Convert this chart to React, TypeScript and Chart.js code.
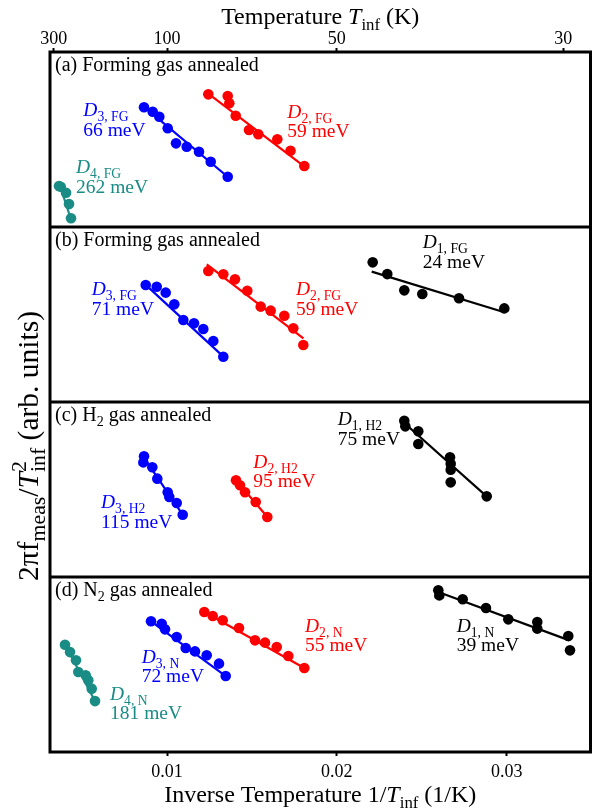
import React, { useEffect, useRef } from "react";
import { Chart, registerables } from "chart.js";

Chart.register(...registerables);

// ---------- data: x = 1/T_inf (1/K), y = arbitrary units (each panel 0..10) ----------
// (a) Forming gas annealed
const aD4X = [0.003641, 0.003742, 0.004054, 0.00423, 0.004348];
const aD4Y = [2.34, 2.3, 1.96, 1.31, 0.5];
const aD3X = [0.008646, 0.009158, 0.009547, 0.010041, 0.01053, 0.01116, 0.011884, 0.012573, 0.013574];
const aD3Y = [6.84, 6.59, 6.3, 5.64, 4.78, 4.59, 4.3, 3.73, 2.87];
const aD2X = [0.012432, 0.013574, 0.013668, 0.014045, 0.014828, 0.015375, 0.016494, 0.017271, 0.018084];
const aD2Y = [7.58, 7.49, 7.07, 6.36, 5.54, 5.3, 5.01, 4.36, 3.49];
const aD4FitX = [0.0037, 0.00436];
const aD4FitY = [2.35, 0.4];
const aD3FitX = [0.00865, 0.01357];
const aD3FitY = [6.86, 2.87];
const aD2FitX = [0.01243, 0.01808];
const aD2FitY = [7.62, 3.47];

// (b) Forming gas annealed
const bD3X = [0.008746, 0.009394, 0.009924, 0.01043, 0.01096, 0.01159, 0.012137, 0.012726, 0.013315];
const bD3Y = [6.69, 6.59, 6.25, 5.58, 4.69, 4.5, 4.17, 3.49, 2.59];
const bD2X = [0.012432, 0.013315, 0.014003, 0.014728, 0.015517, 0.016105, 0.016906, 0.017436, 0.018025];
const bD2Y = [7.49, 7.3, 7.01, 6.36, 5.45, 5.22, 4.93, 4.21, 3.26];
const bD1X = [0.022111, 0.02297, 0.023971, 0.025031, 0.027192, 0.029859];
const bD1Y = [7.98, 7.31, 6.38, 6.17, 5.93, 5.35];
const bD3FitX = [0.00875, 0.01332];
const bD3FitY = [6.69, 2.59];
const bD2FitX = [0.01234, 0.01803];
const bD2FitY = [7.87, 3.64];
const bD1FitX = [0.022052, 0.029859];
const bD1FitY = [7.45, 5.13];

// (c) H2 gas annealed
const cD3X = [0.008646, 0.008605, 0.009134, 0.009429, 0.010041, 0.010135, 0.010571, 0.010924];
const cD3Y = [6.9, 6.55, 6.27, 5.62, 4.84, 4.57, 4.23, 3.56];
const cD2X = [0.014062, 0.014298, 0.014592, 0.015222, 0.015905];
const cD2Y = [5.53, 5.24, 4.84, 4.29, 3.43];
const cD1X = [0.023971, 0.02403, 0.024795, 0.024795, 0.026662, 0.026703, 0.026703, 0.026703, 0.028823];
const cD1Y = [8.93, 8.61, 8.33, 7.6, 6.84, 6.47, 6.13, 5.41, 4.61];
const cD3FitX = [0.00862, 0.01092];
const cD3FitY = [6.85, 3.56];
const cD2FitX = [0.01406, 0.01591];
const cD2FitY = [5.53, 3.43];
const cD1FitX = [0.02397, 0.02882];
const cD1FitY = [8.8, 4.61];

// (d) N2 gas annealed
const dD4X = [0.003995, 0.004289, 0.004642, 0.004778, 0.005213, 0.005366, 0.005567, 0.005761];
const dD4Y = [6.13, 5.71, 5.24, 4.57, 4.38, 4.1, 3.62, 2.91];
const dD3X = [0.009058, 0.009688, 0.009882, 0.010571, 0.011101, 0.011649, 0.012337, 0.013061, 0.013456];
const dD3Y = [7.47, 7.33, 7.01, 6.57, 5.94, 5.75, 5.53, 5.05, 4.34];
const dD2X = [0.012196, 0.012691, 0.013279, 0.014239, 0.015181, 0.01577, 0.016459, 0.017142, 0.018084];
const dD2Y = [8.0, 7.77, 7.53, 7.09, 6.38, 6.25, 6.0, 5.49, 4.8];
const dD1X = [0.025973, 0.026032, 0.02741, 0.028781, 0.030094, 0.031801, 0.031801, 0.033627, 0.033727];
const dD1Y = [9.24, 8.95, 8.73, 8.23, 7.58, 7.43, 7.05, 6.63, 5.81];
const dD4FitX = [0.004, 0.00576];
const dD4FitY = [6.13, 2.91];
const dD3FitX = [0.00906, 0.01346];
const dD3FitY = [7.47, 4.34];
const dD2FitX = [0.0122, 0.01808];
const dD2FitY = [8.0, 4.8];
const dD1FitX = [0.02597, 0.03369];
const dD1FitY = [9.14, 6.38];

// axis ticks
const bottomTickValues = [0.01, 0.02, 0.03];
const bottomTickLabels = ["0.01", "0.02", "0.03"];
const topTickTemps = [300, 100, 50, 30];
const topTickLabels = ["300", "100", "50", "30"];
const X_MIN = 0.003111;
const X_MAX = 0.034934;

// ---------- styling ----------
const FONT = '"Liberation Serif", "Times New Roman", "DejaVu Serif", serif';
const BLUE = "#0000ff";
const RED = "#ff0000";
const BLACK = "#000000";
const TEAL = "#1a8c86";

const PANELS = ["ya", "yb", "yc", "yd"];

type Run = { t: string; italic?: boolean; pos?: "sub" | "sup"; stack?: boolean };

const panelLabels: Run[][] = [
  [{ t: "(a) Forming gas annealed" }],
  [{ t: "(b) Forming gas annealed" }],
  [{ t: "(c) H" }, { t: "2", pos: "sub" }, { t: " gas annealed" }],
  [{ t: "(d) N" }, { t: "2", pos: "sub" }, { t: " gas annealed" }],
];

const annotations = [
  { axis: "ya", x: 0.005073, y: 6.34, n: "3", s: "FG", e: "66 meV", c: BLUE },
  { axis: "ya", x: 0.004643, y: 3.07, n: "4", s: "FG", e: "262 meV", c: TEAL },
  { axis: "ya", x: 0.017083, y: 6.25, n: "2", s: "FG", e: "59 meV", c: RED },
  { axis: "yb", x: 0.005567, y: 6.09, n: "3", s: "FG", e: "71 meV", c: BLUE },
  { axis: "yb", x: 0.017595, y: 6.11, n: "2", s: "FG", e: "59 meV", c: RED },
  { axis: "yb", x: 0.025054, y: 8.8, n: "1", s: "FG", e: "24 meV", c: BLACK },
  { axis: "yc", x: 0.006114, y: 3.94, n: "3", s: "H2", e: "115 meV", c: BLUE },
  { axis: "yc", x: 0.015081, y: 6.23, n: "2", s: "H2", e: "95 meV", c: RED },
  { axis: "yc", x: 0.02005, y: 8.67, n: "1", s: "H2", e: "75 meV", c: BLACK },
  { axis: "yd", x: 0.006644, y: 2.99, n: "4", s: "N", e: "181 meV", c: TEAL },
  { axis: "yd", x: 0.00851, y: 5.1, n: "3", s: "N", e: "72 meV", c: BLUE },
  { axis: "yd", x: 0.018125, y: 6.86, n: "2", s: "N", e: "55 meV", c: RED },
  { axis: "yd", x: 0.027056, y: 6.86, n: "1", s: "N", e: "39 meV", c: BLACK },
];

function fontFor(size: number, italic?: boolean) {
  return `${italic ? "italic " : ""}${size}px ${FONT}`;
}

function runsWidth(ctx: CanvasRenderingContext2D, runs: Run[], size: number, subScale = 0.7) {
  let w = 0;
  let pending = 0;
  for (const r of runs) {
    const s = r.pos ? size * subScale : size;
    ctx.font = fontFor(s, r.italic);
    const rw = ctx.measureText(r.t).width;
    if (r.stack) {
      pending = Math.max(pending, rw);
    } else {
      w += Math.max(pending, rw);
      pending = 0;
    }
  }
  return w + pending;
}

function drawRuns(
  ctx: CanvasRenderingContext2D,
  runs: Run[],
  x: number,
  y: number,
  size: number,
  color: string,
  subScale = 0.7
) {
  ctx.fillStyle = color;
  ctx.textBaseline = "alphabetic";
  ctx.textAlign = "left";
  let cx = x;
  let pending = 0;
  for (const r of runs) {
    const s = r.pos ? size * subScale : size;
    ctx.font = fontFor(s, r.italic);
    const dy = r.pos === "sub" ? size * 0.26 : r.pos === "sup" ? -size * 0.4 : 0;
    ctx.fillText(r.t, cx, y + dy);
    const rw = ctx.measureText(r.t).width;
    if (r.stack) {
      pending = Math.max(pending, rw);
    } else {
      cx += Math.max(pending, rw);
      pending = 0;
    }
  }
}

const decorPlugin = {
  id: "decor",
  afterDraw(chart: any) {
    const ctx: CanvasRenderingContext2D = chart.ctx;
    const ca = chart.chartArea;
    const xs = chart.scales.x;
    ctx.save();

    // panel labels and annotations
    PANELS.forEach((id, i) => {
      const ys = chart.scales[id];
      drawRuns(ctx, panelLabels[i], ca.left + 5, ys.top + 19, 20, "#000");
    });
    for (const a of annotations) {
      const px = xs.getPixelForValue(a.x);
      const py = chart.scales[a.axis].getPixelForValue(a.y);
      drawRuns(ctx, [{ t: "D", italic: true }, { t: `${a.n}, ${a.s}`, pos: "sub" }], px, py, 19.5, a.c);
      drawRuns(ctx, [{ t: a.e }], px, py + 19.5, 19.5, a.c);
    }

    // frame and panel dividers
    ctx.strokeStyle = "#000";
    ctx.lineWidth = 3;
    ctx.strokeRect(ca.left, ca.top, ca.right - ca.left, ca.bottom - ca.top);
    for (let i = 1; i < PANELS.length; i++) {
      const yy = chart.scales[PANELS[i]].top;
      ctx.beginPath();
      ctx.moveTo(ca.left, yy);
      ctx.lineTo(ca.right, yy);
      ctx.stroke();
    }

    // top title
    const topRuns: Run[] = [{ t: "Temperature " }, { t: "T", italic: true }, { t: "inf", pos: "sub" }, { t: " (K)" }];
    const tw = runsWidth(ctx, topRuns, 24);
    drawRuns(ctx, topRuns, (ca.left + ca.right) / 2 - tw / 2, 24, 24, "#000");

    // bottom title
    const botRuns: Run[] = [
      { t: "Inverse Temperature 1/" },
      { t: "T", italic: true },
      { t: "inf", pos: "sub" },
      { t: " (1/K)" },
    ];
    const bw = runsWidth(ctx, botRuns, 24);
    drawRuns(ctx, botRuns, (ca.left + ca.right) / 2 - bw / 2, 802, 24, "#000");

    // y title (rotated)
    const yRuns: Run[] = [
      { t: "2\u03c0f" },
      { t: "meas", pos: "sub" },
      { t: "/" },
      { t: "T", italic: true },
      { t: "2", pos: "sup", stack: true },
      { t: "inf", pos: "sub" },
      { t: " (arb. units)" },
    ];
    const Y_SIZE = 29.5;
    const yw = runsWidth(ctx, yRuns, Y_SIZE, 0.74);
    ctx.translate(37.5, 446);
    ctx.rotate(-Math.PI / 2);
    drawRuns(ctx, yRuns, -yw / 2, 0, Y_SIZE, "#000", 0.74);

    ctx.restore();
  },
};

function pts(xs: number[], ys: number[]) {
  return xs.map((x, i) => ({ x, y: ys[i] }));
}

function pointSet(xs: number[], ys: number[], color: string, axis: string) {
  return {
    type: "scatter" as const,
    data: pts(xs, ys),
    yAxisID: axis,
    xAxisID: "x",
    showLine: false,
    pointRadius: 5.3,
    pointBackgroundColor: color,
    pointBorderWidth: 0,
    borderColor: color,
    order: 0,
  };
}

function fitSet(xs: number[], ys: number[], color: string, axis: string) {
  return {
    type: "scatter" as const,
    data: pts(xs, ys),
    yAxisID: axis,
    xAxisID: "x",
    showLine: true,
    pointRadius: 0,
    borderColor: color,
    borderWidth: 2.2,
    order: 1,
  };
}

export default function App() {
  const ref = useRef<HTMLCanvasElement>(null);

  useEffect(() => {
    const datasets: any[] = [
      pointSet(aD4X, aD4Y, TEAL, "ya"),
      pointSet(aD3X, aD3Y, BLUE, "ya"),
      pointSet(aD2X, aD2Y, RED, "ya"),
      fitSet(aD4FitX, aD4FitY, TEAL, "ya"),
      fitSet(aD3FitX, aD3FitY, BLUE, "ya"),
      fitSet(aD2FitX, aD2FitY, RED, "ya"),

      pointSet(bD3X, bD3Y, BLUE, "yb"),
      pointSet(bD2X, bD2Y, RED, "yb"),
      pointSet(bD1X, bD1Y, BLACK, "yb"),
      fitSet(bD3FitX, bD3FitY, BLUE, "yb"),
      fitSet(bD2FitX, bD2FitY, RED, "yb"),
      fitSet(bD1FitX, bD1FitY, BLACK, "yb"),

      pointSet(cD3X, cD3Y, BLUE, "yc"),
      pointSet(cD2X, cD2Y, RED, "yc"),
      pointSet(cD1X, cD1Y, BLACK, "yc"),
      fitSet(cD3FitX, cD3FitY, BLUE, "yc"),
      fitSet(cD2FitX, cD2FitY, RED, "yc"),
      fitSet(cD1FitX, cD1FitY, BLACK, "yc"),

      pointSet(dD4X, dD4Y, TEAL, "yd"),
      pointSet(dD3X, dD3Y, BLUE, "yd"),
      pointSet(dD2X, dD2Y, RED, "yd"),
      pointSet(dD1X, dD1Y, BLACK, "yd"),
      fitSet(dD4FitX, dD4FitY, TEAL, "yd"),
      fitSet(dD3FitX, dD3FitY, BLUE, "yd"),
      fitSet(dD2FitX, dD2FitY, RED, "yd"),
      fitSet(dD1FitX, dD1FitY, BLACK, "yd"),
    ];

    const tickFont = { family: FONT, size: 18, lineHeight: 1 };
    const scales: any = {
      x: {
        type: "linear",
        position: "bottom",
        min: X_MIN,
        max: X_MAX,
        afterBuildTicks: (axis: any) => {
          axis.ticks = bottomTickValues.map((v) => ({ value: v }));
        },
        afterFit: (s: any) => {
          s.height = 30;
        },
        ticks: {
          autoSkip: false,
          maxRotation: 0,
          font: tickFont,
          color: "#000",
          padding: 7,
          callback: (_v: any, i: number) => bottomTickLabels[i],
        },
        grid: { display: true, drawOnChartArea: false, drawTicks: true, tickLength: 4, tickWidth: 2, tickColor: "#000" },
        border: { display: false },
      },
      x2: {
        type: "linear",
        position: "top",
        min: X_MIN,
        max: X_MAX,
        afterBuildTicks: (axis: any) => {
          axis.ticks = topTickTemps.map((t) => ({ value: 1 / t }));
        },
        afterFit: (s: any) => {
          s.height = 30;
        },
        ticks: {
          autoSkip: false,
          maxRotation: 0,
          font: tickFont,
          color: "#000",
          padding: 0,
          callback: (_v: any, i: number) => topTickLabels[i],
        },
        grid: { display: true, drawOnChartArea: false, drawTicks: true, tickLength: 4, tickWidth: 2, tickColor: "#000" },
        border: { display: false },
      },
    };
    PANELS.forEach((id, i) => {
      scales[id] = {
        type: "linear",
        position: "left",
        stack: "panels",
        stackWeight: 1,
        weight: PANELS.length - i,
        min: 0,
        max: 10,
        grid: { display: false },
        border: { display: false },
        ticks: { display: false },
        afterFit: (s: any) => {
          s.width = 0;
        },
      };
    });

    const chart = new Chart(ref.current as HTMLCanvasElement, {
      type: "scatter",
      data: { datasets },
      options: {
        responsive: false,
        animation: false,
        layout: { padding: { left: 50, right: 6.5, top: 22, bottom: 26 } },
        plugins: { legend: { display: false }, tooltip: { enabled: false } },
        scales,
      },
      plugins: [decorPlugin],
    } as any);
    return () => chart.destroy();
  }, []);

  return (
    <div style={{ position: "absolute", left: 0, top: 0, width: 597, height: 808, background: "#fff" }}>
      <canvas ref={ref} width={597} height={808} style={{ display: "block", width: 597, height: 808 }} />
    </div>
  );
}
